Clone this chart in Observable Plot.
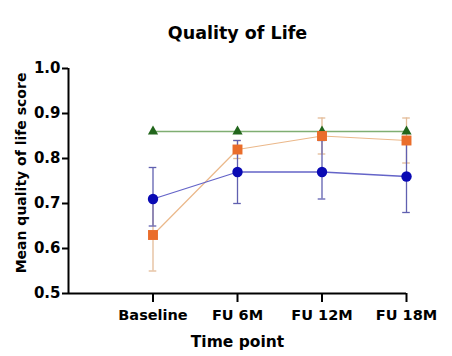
<!DOCTYPE html>
<html>
<head>
<meta charset="utf-8">
<script src="https://cdn.jsdelivr.net/npm/d3@7"></script>
<script src="https://cdn.jsdelivr.net/npm/@observablehq/plot@0.6"></script>
<style>
  html, body { margin: 0; padding: 0; background: #ffffff; }
  #chart svg { display: block; }
</style>
</head>
<body>
<div id="chart"></div>
<script>
// ---- Data ----
const timePoints = ["Baseline", "FU 6M", "FU 12M", "FU 18M"];
const yTicks = [0.5, 0.6, 0.7, 0.8, 0.9, 1.0];

// Blue series (circles)
const blueMean = [0.71, 0.77, 0.77, 0.76];
const blueLow  = [0.65, 0.70, 0.71, 0.68];
const blueHigh = [0.78, 0.84, 0.84, 0.84];

// Orange series (squares)
const orangeMean = [0.63, 0.82, 0.85, 0.84];
const orangeLow  = [0.55, 0.80, 0.81, 0.79];
const orangeHigh = [0.71, 0.84, 0.89, 0.89];

// Green series (triangles)
const greenMean = [0.86, 0.86, 0.86, 0.86];

// ---- Build tables ----
const rows = (mean, low, high) => timePoints.map((t, k) => ({
  i: k + 1, label: t, v: mean[k],
  lo: low ? low[k] : mean[k], hi: high ? high[k] : mean[k]
}));
const blue = rows(blueMean, blueLow, blueHigh);
const orange = rows(orangeMean, orangeLow, orangeHigh);
const green = rows(greenMean);

const capHalf = 0.045;
const errMarks = (data, color) => [
  Plot.ruleX(data, {x: "i", y1: "lo", y2: "hi", stroke: color, strokeWidth: 1.3}),
  Plot.ruleY(data, {y: "lo", x1: d => d.i - capHalf, x2: d => d.i + capHalf, stroke: color, strokeWidth: 1.3}),
  Plot.ruleY(data, {y: "hi", x1: d => d.i - capHalf, x2: d => d.i + capHalf, stroke: color, strokeWidth: 1.3})
];

const font = "DejaVu Sans, Verdana, sans-serif";

const chart = Plot.plot({
  width: 452,
  height: 356,
  marginLeft: 68,
  marginRight: 46,
  marginTop: 68,
  marginBottom: 63,
  style: {fontFamily: font, background: "#ffffff", color: "#000000"},
  x: {domain: [0, 4]},
  y: {domain: [0.5, 1.0]},
  marks: [
    // lines and error bars
    ...errMarks(orange, "#e3bc98"),
    Plot.line(orange, {x: "i", y: "v", stroke: "#ebb88a", strokeWidth: 1.2}),
    Plot.line(green, {x: "i", y: "v", stroke: "#7fae72", strokeWidth: 1.3}),
    ...errMarks(blue, "#6060b0"),
    Plot.line(blue, {x: "i", y: "v", stroke: "#6464c8", strokeWidth: 1.3}),
    // markers
    Plot.dot(green, {x: "i", y: "v", symbol: "triangle", r: 3.8, fill: "#22661c", stroke: "none"}),
    Plot.dot(blue, {x: "i", y: "v", symbol: "circle", r: 5.2, fill: "#0a0ab4", stroke: "none"}),
    Plot.dot(orange, {x: "i", y: "v", symbol: "square", r: 5.6, fill: "#ea6d2b", stroke: "none"}),
    // axes
    Plot.axisY({
      ticks: yTicks, tickFormat: d3.format(".1f"), tickSize: 6, tickPadding: 2,
      fontSize: 15, fontWeight: "bold", strokeWidth: 2, label: null
    }),
    Plot.axisX({
      ticks: [1, 2, 3, 4], tickFormat: d => timePoints[d - 1], tickSize: 9, tickPadding: 7,
      fontSize: 14.5, fontWeight: "bold", strokeWidth: 2, label: null
    }),
    Plot.ruleX([0], {y1: 0.5, y2: 1.0, stroke: "#000", strokeWidth: 2}),
    Plot.ruleY([0.5], {x1: 0, x2: 4, stroke: "#000", strokeWidth: 2}),
    // titles
    Plot.text(["Quality of Life"], {
      text: d => d, frameAnchor: "top", dy: -30, lineAnchor: "bottom",
      fontSize: 17.5, fontWeight: "bold", fill: "#000"
    }),
    Plot.text(["Mean quality of life score"], {
      text: d => d, frameAnchor: "left", rotate: -90, dx: -43, dy: -8,
      lineAnchor: "bottom", textAnchor: "middle",
      fontSize: 14, fontWeight: "bold", fill: "#000"
    }),
    Plot.text(["Time point"], {
      text: d => d, frameAnchor: "bottom", dy: 53, lineAnchor: "bottom",
      fontSize: 15.5, fontWeight: "bold", fill: "#000"
    })
  ]
});

document.getElementById("chart").appendChild(chart);
</script>
</body>
</html>
